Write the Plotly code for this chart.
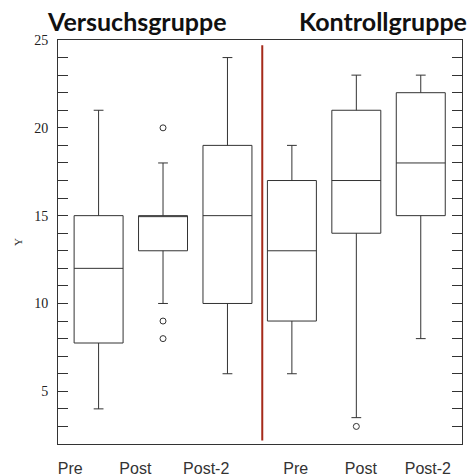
import plotly.graph_objects as go

# --- data ---
groups = ["Versuchsgruppe", "Kontrollgruppe"]
phases = ["Pre", "Post", "Post-2", "Pre", "Post", "Post-2"]
positions = [1, 2, 3, 4, 5, 6]
label_positions = [0.56, 1.57, 2.67, 4.06, 5.07, 6.11]
lower_whisker = [4, 10, 6, 6, 3.5, 8]
q1 = [7.75, 13, 10, 9, 14, 15]
median = [12, 15, 15, 13, 17, 18]
q3 = [15, 15, 19, 17, 21, 22]
upper_whisker = [21, 18, 24, 19, 23, 23]
outlier_x = [2, 2, 2, 5]
outlier_y = [20, 9, 8, 3]
divider_x = 3.54
divider_y = [2.2, 24.7]

line_col = "#333333"

fig = go.Figure()
fig.add_trace(go.Box(
    x=positions, q1=q1, median=median, q3=q3,
    lowerfence=lower_whisker, upperfence=upper_whisker,
    width=0.76, whiskerwidth=0.2,
    fillcolor="rgba(255,255,255,0)",
    line=dict(color=line_col, width=1),
    boxpoints=False, showlegend=False, hoverinfo="skip",
))
fig.add_trace(go.Scatter(
    x=outlier_x, y=outlier_y, mode="markers",
    marker=dict(symbol="circle-open", size=6, color=line_col, line=dict(width=1)),
    showlegend=False, hoverinfo="skip",
))
fig.add_shape(type="line", x0=divider_x, x1=divider_x, y0=divider_y[0], y1=divider_y[1],
              xref="x", yref="y", line=dict(color="#a52a1a", width=2))

fig.add_annotation(text="<b>" + groups[0] + "</b>", xref="paper", yref="paper",
                   x=(137 - 58) / 404, y=1.0, yshift=19, xanchor="center", yanchor="middle",
                   showarrow=False, font=dict(family="Lato", size=25, color="#111111"))
fig.add_annotation(text="<b>" + groups[1] + "</b>", xref="paper", yref="paper",
                   x=(383 - 58) / 404, y=1.0, yshift=19, xanchor="center", yanchor="middle",
                   showarrow=False, font=dict(family="Lato", size=25, color="#111111"))

fig.update_layout(
    width=476, height=476,
    margin=dict(l=58, r=14, t=40, b=32, autoexpand=False),
    paper_bgcolor="white", plot_bgcolor="white",
    xaxis=dict(range=[0.37, 6.64], tickvals=label_positions, ticktext=phases,
               showgrid=False, zeroline=False, showline=True, mirror=True,
               linecolor=line_col, linewidth=1, ticks="", ticklabelstandoff=10,
               automargin=False,
               tickfont=dict(family="Liberation Sans", size=16, color="#333333")),
    yaxis=dict(range=[2, 25], tickvals=[5, 10, 15, 20, 25],
               showgrid=False, zeroline=False, showline=True, mirror="ticks",
               linecolor=line_col, linewidth=1, ticks="inside", ticklen=10,
               tickcolor=line_col, ticklabelstandoff=6, automargin=False,
               minor=dict(dtick=1, ticks="inside", ticklen=10, tickcolor=line_col, showgrid=False),
               tickfont=dict(family="Liberation Serif", size=14, color="#222222"),
               title=dict(text="Y", font=dict(family="Liberation Serif", size=11, color="#222222"),
                          standoff=9)),
)

fig.write_html("out.html")
